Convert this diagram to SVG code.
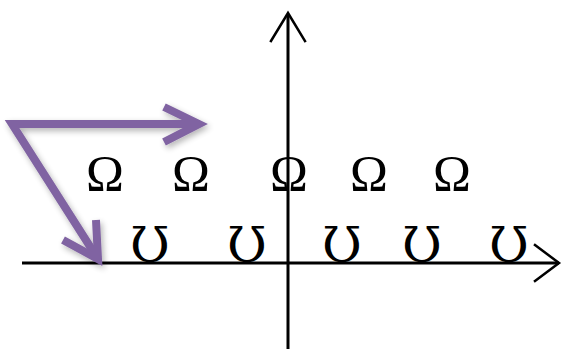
<svg xmlns="http://www.w3.org/2000/svg" width="562" height="349" viewBox="0 0 562 349">
<style>
.ax{stroke:#000;stroke-width:3;fill:none}
.ah{stroke:#000;stroke-width:2.5;fill:none;stroke-linecap:square}
.pv{stroke:#8064a2;stroke-width:8;fill:none;stroke-linecap:butt;stroke-linejoin:miter}
.g{font-family:"Liberation Serif","DejaVu Serif",serif;font-size:51px;fill:#000;text-anchor:middle}
.u{font-family:"DejaVu Serif",serif;font-size:48px;fill:#000;text-anchor:middle}
</style>
<defs>
<filter id="sh" x="-20%" y="-20%" width="140%" height="140%">
<feGaussianBlur in="SourceAlpha" stdDeviation="3"/>
<feOffset dx="2" dy="3" result="b"/>
<feComponentTransfer><feFuncA type="linear" slope="0.3"/></feComponentTransfer>
<feMerge><feMergeNode/><feMergeNode in="SourceGraphic"/></feMerge>
</filter>
</defs>
<rect width="562" height="349" fill="#fff"/>
<g id="connectors">
<g id="y-axis">
<line class="ax" x1="288" y1="14" x2="288" y2="349"/>
<polyline class="ah" points="271,41 288,13 305,41"/>
</g>
<g id="x-axis">
<line class="ax" x1="22" y1="263" x2="559" y2="263"/>
<polyline class="ah" points="535,245 559,263 535,281"/>
</g>
<g id="purple-arrows" filter="url(#sh)">
<polyline class="pv" points="200,124 12,124 98,259"/>
<polyline class="pv" points="164,107 199,124 164,142"/>
<polyline class="pv" points="63,240 98,259 96,220"/>
</g>
</g>
<g id="omegas">
<text class="g" x="105" y="190">Ω</text>
<text class="g" x="191" y="190">Ω</text>
<text class="g" x="289" y="190">Ω</text>
<text class="g" x="369" y="190">Ω</text>
<text class="g" x="452" y="190">Ω</text>
</g>
<g id="upsilons">
<text class="u" x="150" y="262">Ʊ</text>
<text class="u" x="247" y="262">Ʊ</text>
<text class="u" x="342" y="262">Ʊ</text>
<text class="u" x="422" y="262">Ʊ</text>
<text class="u" x="509" y="262">Ʊ</text>
</g>
</svg>
